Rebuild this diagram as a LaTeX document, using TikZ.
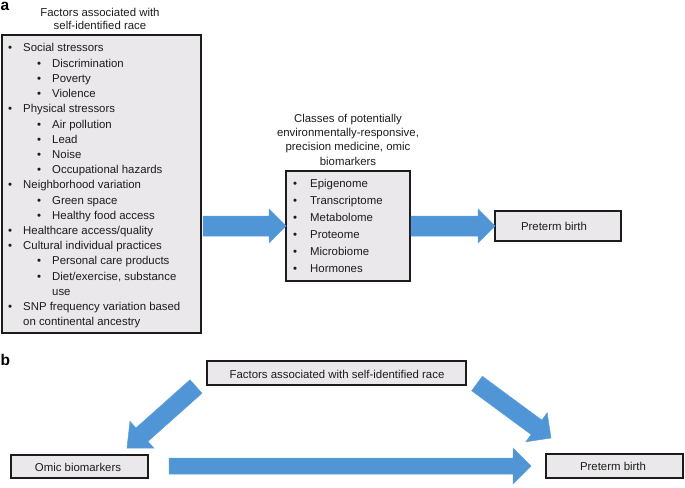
\documentclass[tikz,border=0pt]{standalone}
\usepackage{fontspec}
\setmainfont{Liberation Sans}
\usetikzlibrary{calc}
\definecolor{arrowblue}{RGB}{80,149,213}
\definecolor{arrowedge}{RGB}{96,160,218}
\definecolor{boxgray}{RGB}{234,232,234}
\definecolor{ink}{RGB}{28,28,28}
\newcommand\blockarrow[5]{% tail, tip, half shaft, half head, head length
  \coordinate (bah) at ($(#2)!#5pt!(#1)$);
  \filldraw[bluearrow] ($(#1)!#3pt!90:(#2)$) -- ($(bah)!#3pt!90:(#2)$) -- ($(bah)!#4pt!90:(#2)$) -- (#2) -- ($(bah)!#4pt!-90:(#2)$) -- ($(bah)!#3pt!-90:(#2)$) -- ($(#1)!#3pt!-90:(#2)$) -- cycle;}
\begin{document}
\begin{tikzpicture}[x=1pt,y=-1pt,
  box/.style={draw=ink, line width=1.4pt, fill=boxgray, inner sep=0pt},
  txt/.style={inner sep=0pt, font=\fontsize{11.4}{13}\selectfont, text=ink},
  item/.style={txt, anchor=base west},
  ctext/.style={txt, anchor=base},
  dot/.style={txt, anchor=base},
  panel/.style={inner sep=0pt, anchor=base west, font=\fontsize{15.5}{15.5}\bfseries\selectfont},
  bluearrow/.style={fill=arrowblue, draw=arrowedge, line width=0.5pt, line join=miter}]
\useasboundingbox (0,0) rectangle (685,487);

% ---------- panel a ----------
\node[panel] (la) at (0.5,10.5) {a};
\node[ctext] (tA1) at (100,16.5) {Factors associated with};
\node[ctext] (tA2) at (100,30) {self-identified race};

\node[box, minimum width=199pt, minimum height=298pt] (boxA) at (101.5,184) {};

\node[dot] (b1) at (10,52) {•};        \node[item] (i1) at (23,52) {Social stressors};
\node[dot] (b2) at (39,67.2) {•};      \node[item] (i2) at (52,67.2) {Discrimination};
\node[dot] (b3) at (39,82.4) {•};      \node[item] (i3) at (52,82.4) {Poverty};
\node[dot] (b4) at (39,97.6) {•};      \node[item] (i4) at (52,97.6) {Violence};
\node[dot] (b5) at (10,112.8) {•};     \node[item] (i5) at (23,112.8) {Physical stressors};
\node[dot] (b6) at (39,128) {•};       \node[item] (i6) at (52,128) {Air pollution};
\node[dot] (b7) at (39,143.2) {•};     \node[item] (i7) at (52,143.2) {Lead};
\node[dot] (b8) at (39,158.4) {•};     \node[item] (i8) at (52,158.4) {Noise};
\node[dot] (b9) at (39,173.6) {•};     \node[item] (i9) at (52,173.6) {Occupational hazards};
\node[dot] (b10) at (10,188.8) {•};    \node[item] (i10) at (23,188.8) {Neighborhood variation};
\node[dot] (b11) at (39,204) {•};      \node[item] (i11) at (52,204) {Green space};
\node[dot] (b12) at (39,219.2) {•};    \node[item] (i12) at (52,219.2) {Healthy food access};
\node[dot] (b13) at (10,234.4) {•};    \node[item] (i13) at (23,234.4) {Healthcare access/quality};
\node[dot] (b14) at (10,249.6) {•};    \node[item] (i14) at (23,249.6) {Cultural individual practices};
\node[dot] (b15) at (39,264.8) {•};    \node[item] (i15) at (52,264.8) {Personal care products};
\node[dot] (b16) at (39,280) {•};      \node[item] (i16) at (52,280) {Diet/exercise, substance};
                                       \node[item] (i17) at (52,295.2) {use};
\node[dot] (b18) at (10,310.4) {•};    \node[item] (i18) at (23,310.4) {SNP frequency variation based};
                                       \node[item] (i19) at (23,325.6) {on continental ancestry};

\node[ctext] (tB1) at (348,122) {Classes of potentially};
\node[ctext] (tB2) at (348,136.3) {environmentally-responsive,};
\node[ctext] (tB3) at (348,150.6) {precision medicine, omic};
\node[ctext] (tB4) at (348,165) {biomarkers};

\node[box, minimum width=124pt, minimum height=110pt] (boxB) at (348,226) {};
\node[dot] (m1) at (295,187) {•}; \node[item] (j1) at (310,187) {Epigenome};
\node[dot] (m2) at (295,204) {•}; \node[item] (j2) at (310,204) {Transcriptome};
\node[dot] (m3) at (295,221) {•}; \node[item] (j3) at (310,221) {Metabolome};
\node[dot] (m4) at (295,238) {•}; \node[item] (j4) at (310,238) {Proteome};
\node[dot] (m5) at (295,255) {•}; \node[item] (j5) at (310,255) {Microbiome};
\node[dot] (m6) at (295,272) {•}; \node[item] (j6) at (310,272) {Hormones};

\node[box, minimum width=126pt, minimum height=30pt] (boxC) at (558,226) {};
\node[ctext] (pA) at (554,230) {Preterm birth};

\coordinate (a1s) at (203,226);
\coordinate (a1e) at (286,226);
\coordinate (a2s) at (411,226);
\coordinate (a2e) at (495,226);
\blockarrow{a1s}{a1e}{10}{17}{17}
\blockarrow{a2s}{a2e}{10}{17}{17}

% ---------- panel b ----------
\node[panel] (lb) at (0.5,365) {b};

\node[box, minimum width=259pt, minimum height=24pt] (fb) at (336.5,373) {};
\node[ctext] (fbt) at (337,378) {Factors associated with self-identified race};

\node[box, minimum width=137pt, minimum height=23pt] (ob) at (79.5,466.5) {};
\node[ctext] (obt) at (78,471) {Omic biomarkers};

\node[box, minimum width=137pt, minimum height=24pt] (pb) at (614.5,466) {};
\node[ctext] (pbt) at (613,470.5) {Preterm birth};

\coordinate (c1s) at (196,386.5);
\coordinate (c1e) at (127,448);
\coordinate (c2s) at (477,383.5);
\coordinate (c2e) at (551,438);
\coordinate (c3s) at (169,466);
\coordinate (c3e) at (531,466);
\blockarrow{c1s}{c1e}{9}{18}{20}
\blockarrow{c2s}{c2e}{9}{18}{18}
\blockarrow{c3s}{c3e}{8}{18}{18}
\end{tikzpicture}
\end{document}
